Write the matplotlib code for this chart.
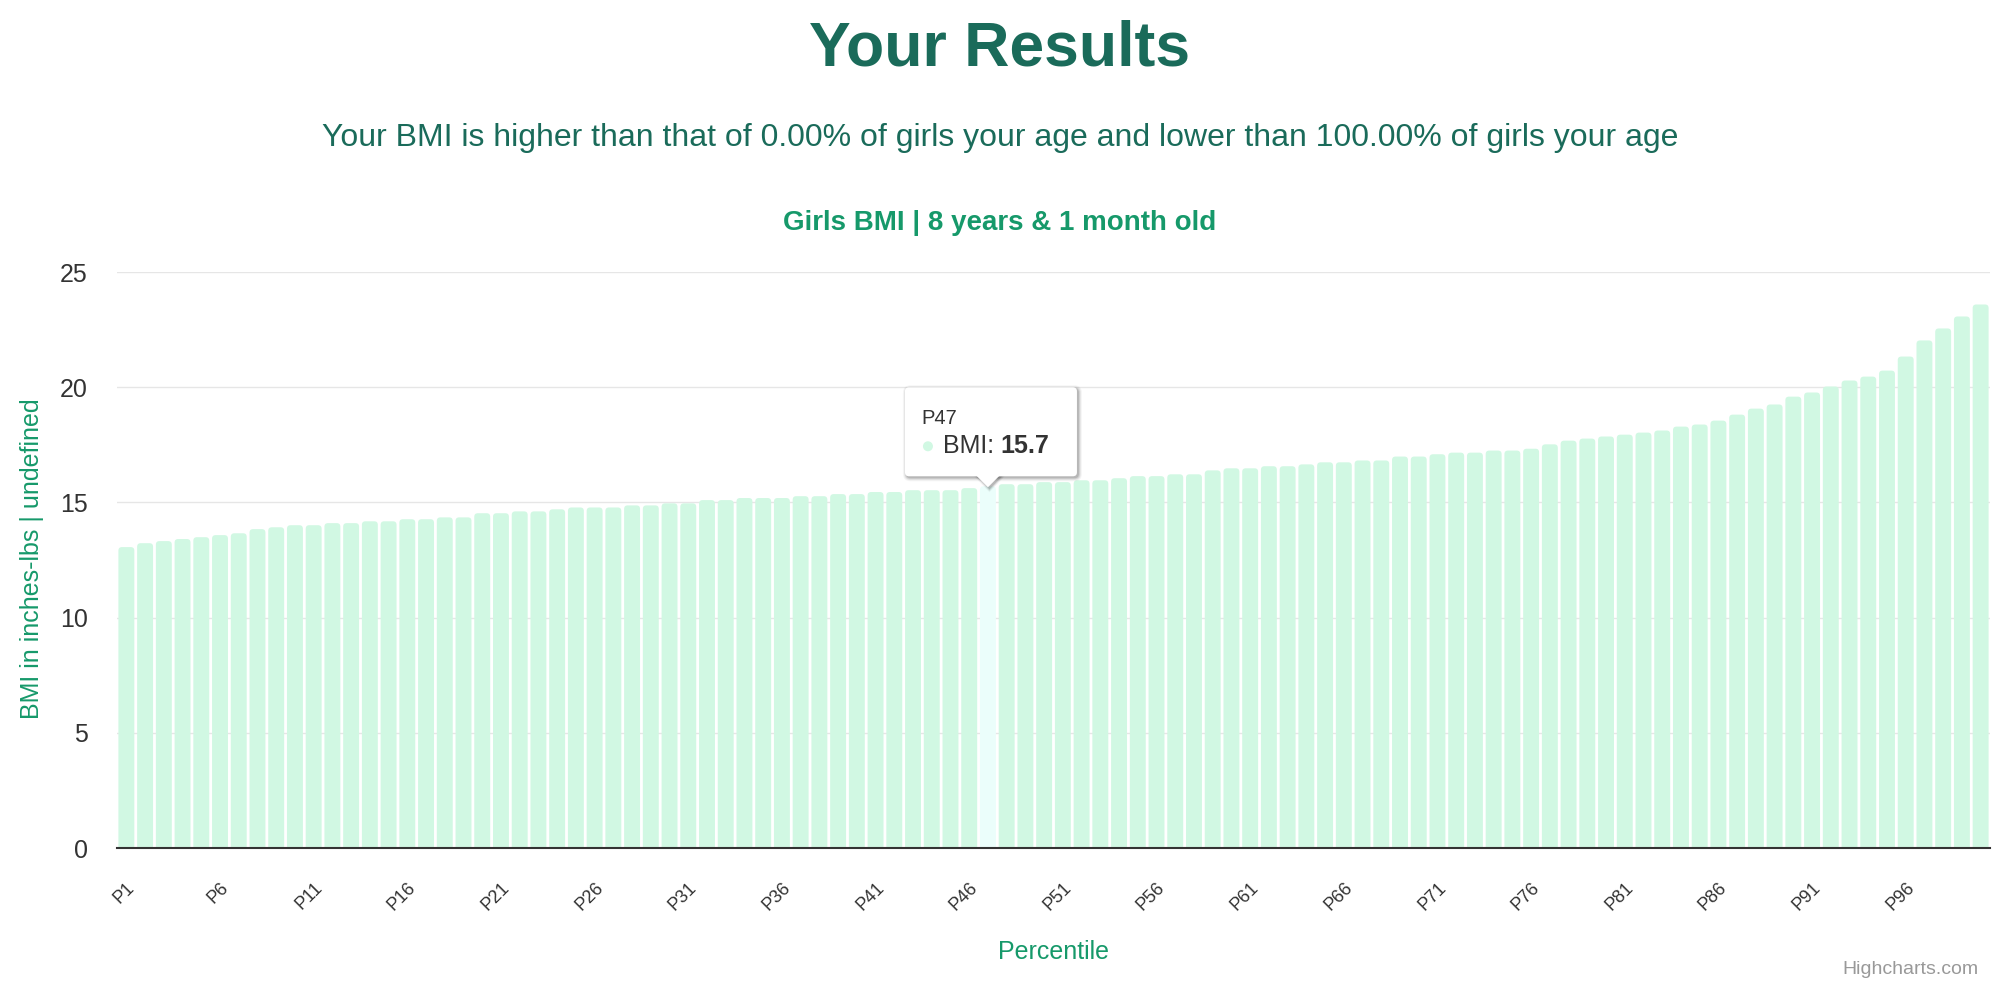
import matplotlib
matplotlib.use('Agg')
import matplotlib.pyplot as plt
from matplotlib.patches import FancyBboxPatch, Polygon, Circle
from matplotlib.transforms import IdentityTransform, ScaledTranslation
import numpy as np

# ---------------- data ----------------
categories = [f"P{i}" for i in range(1, 101)]
bmi = [13.06, 13.23, 13.32, 13.41, 13.49, 13.58, 13.66, 13.84, 13.92, 14.01,
       14.01, 14.10, 14.10, 14.18, 14.18, 14.27, 14.27, 14.35, 14.35, 14.53,
       14.53, 14.61, 14.61, 14.70, 14.78, 14.78, 14.78, 14.87, 14.87, 14.96,
       14.96, 15.10, 15.10, 15.19, 15.19, 15.19, 15.27, 15.27, 15.36, 15.36,
       15.45, 15.45, 15.53, 15.53, 15.53, 15.62, 15.70, 15.79, 15.79, 15.88,
       15.88, 15.96, 15.96, 16.05, 16.14, 16.14, 16.22, 16.22, 16.39, 16.48,
       16.48, 16.57, 16.57, 16.65, 16.74, 16.74, 16.82, 16.82, 16.99, 16.99,
       17.09, 17.16, 17.16, 17.25, 17.25, 17.33, 17.52, 17.68, 17.77, 17.86,
       17.94, 18.03, 18.12, 18.29, 18.38, 18.55, 18.81, 19.07, 19.25, 19.59,
       19.77, 20.03, 20.29, 20.46, 20.72, 21.33, 22.03, 22.55, 23.07, 23.59]
highlight_index = 46
tick_step = 5
y_ticks = [0, 5, 10, 15, 20, 25]

title_text = "Your Results"
subtitle_text = ("Your BMI is higher than that of 0.00% of girls your age "
                 "and lower than 100.00% of girls your age")
chart_title = "Girls BMI | 8 years & 1 month old"
y_label = "BMI in inches-lbs | undefined"
x_label = "Percentile"
series_name = "BMI"
credit = "Highcharts.com"

# ---------------- style ----------------
BAR = '#d1f8e3'
HL = '#ebfefb'
DARK_GREEN = '#1a6b5a'
GREEN = '#16996a'
TXT = '#333333'

plt.rcParams['font.family'] = ['Liberation Sans', 'DejaVu Sans']

W, H = 2000, 990
fig = plt.figure(figsize=(W / 100, H / 100), dpi=100)
fig.patch.set_facecolor('white')

L, R, T, B = 117, 1990, 272, 848
ax = fig.add_axes([L / W, 1 - B / H, (R - L) / W, (B - T) / H])

x = np.arange(len(categories))
colors = [HL if i == highlight_index else BAR for i in x]
bars = ax.bar(x, bmi, width=0.85, color=colors, zorder=2, linewidth=0)

ax.set_xlim(-0.5, len(categories) - 0.5)
ax.set_ylim(0, 25)

# rounded top corners: replace each bar rectangle by a rounded patch of same geometry
px_per_x = (R - L) / (ax.get_xlim()[1] - ax.get_xlim()[0])
px_per_y = (B - T) / (ax.get_ylim()[1] - ax.get_ylim()[0])
radius_px = 3.5
rx = radius_px / px_per_x
ry = radius_px / px_per_y
aspect = ry / rx
for rect in bars.patches:
    rect.set_visible(False)
    rp = FancyBboxPatch((rect.get_x(), rect.get_y() - ry), rect.get_width(),
                        rect.get_height() + ry,
                        boxstyle=f"round,pad=0,rounding_size={rx}",
                        mutation_aspect=aspect, fc=rect.get_facecolor(),
                        ec='none', zorder=2)
    ax.add_patch(rp)

ax.set_yticks(y_ticks)
ax.tick_params(axis='y', length=0, pad=21, labelsize=18, labelcolor=TXT)

ax.set_xticks(x[::tick_step])
ax.set_xticklabels(categories[::tick_step], rotation=45, ha='right',
                   va='center', rotation_mode='anchor')
ax.tick_params(axis='x', length=0, pad=27, labelsize=13, labelcolor=TXT)
offset = ScaledTranslation(6 / 100, 0, fig.dpi_scale_trans)
for lab in ax.get_xticklabels():
    lab.set_transform(lab.get_transform() + offset)

ax.grid(axis='y', color='#e6e6e6', linewidth=1.0)
ax.grid(axis='x', visible=False)
ax.set_axisbelow(True)
for s in ['left', 'right', 'top']:
    ax.spines[s].set_visible(False)
ax.spines['bottom'].set_color(TXT)
ax.spines['bottom'].set_linewidth(1.5)
ax.spines['bottom'].set_zorder(5)

# ---------------- texts ----------------
fig.text(0.5, 1 - 65 / H, title_text, ha='center', va='baseline',
         fontsize=45, fontweight='bold', color=DARK_GREEN)
fig.text(0.5, 1 - 146 / H, subtitle_text, ha='center', va='baseline',
         fontsize=23, color=DARK_GREEN)
fig.text(0.5, 1 - 230 / H, chart_title, ha='center', va='baseline',
         fontsize=20, fontweight='bold', color=GREEN)
fig.text(32 / W, 1 - 559 / H, y_label, rotation=90, ha='center', va='center',
         fontsize=18, color=GREEN)
fig.text(1054 / W, 1 - 952 / H, x_label, ha='center', va='center',
         fontsize=18, color=GREEN)
fig.text(1979 / W, 1 - 969 / H, credit, ha='right', va='center',
         fontsize=14, color='#999999')

# ---------------- tooltip ----------------
fig.canvas.draw()
renderer = fig.canvas.get_renderer()
tip = ax.transData.transform((highlight_index, bmi[highlight_index]))
tx, ty = tip[0], tip[1] - 1
bw, bh = 172, 89
bx0 = tx - 83
by0 = ty + 11
top = by0 + bh
ident = IdentityTransform()

for grow, alpha in [(7, 0.04), (5, 0.06), (3, 0.09), (1, 0.12)]:
    sh = FancyBboxPatch((bx0 - grow / 2 + 1.5, by0 - grow / 2 - 1.5), bw + grow, bh + grow,
                        boxstyle=f"round,pad=0,rounding_size={4 + grow / 2}",
                        fc='black', ec='none', alpha=alpha, transform=ident,
                        clip_on=False, zorder=10)
    ax.add_artist(sh)
    tri_sh = Polygon([(tx - 12 - grow / 2 + 1.5, by0), (tx + 12 + grow / 2 + 1.5, by0),
                      (tx + 1.5, ty - grow / 2 - 1.5)], closed=True, fc='black',
                     ec='none', alpha=alpha, transform=ident, clip_on=False, zorder=10)
    ax.add_artist(tri_sh)

box = FancyBboxPatch((bx0, by0), bw, bh, boxstyle="round,pad=0,rounding_size=4",
                     fc='white', ec='none', transform=ident, clip_on=False, zorder=11)
ax.add_artist(box)
tri = Polygon([(tx - 12, by0 + 1), (tx + 12, by0 + 1), (tx, ty)], closed=True,
              fc='white', ec='none', transform=ident, clip_on=False, zorder=11)
ax.add_artist(tri)

ax.text(bx0 + 16, top - 37, categories[highlight_index], transform=ident,
        ha='left', va='baseline', fontsize=14.5, color=TXT, zorder=12, clip_on=False)
dot = Circle((bx0 + 23, top - 59), 5, fc=BAR, ec='none', transform=ident,
             clip_on=False, zorder=12)
ax.add_artist(dot)
t1 = ax.text(bx0 + 38, top - 66, f"{series_name}:", transform=ident, ha='left',
             va='baseline', fontsize=18, color=TXT, zorder=12, clip_on=False)
bb = t1.get_window_extent(renderer=renderer)
ax.text(bb.x1 + 6, top - 66, f"{bmi[highlight_index]:.1f}", transform=ident,
        ha='left', va='baseline', fontsize=18, fontweight='bold', color=TXT,
        zorder=12, clip_on=False)

fig.savefig('out.png', dpi=100, facecolor='white')
